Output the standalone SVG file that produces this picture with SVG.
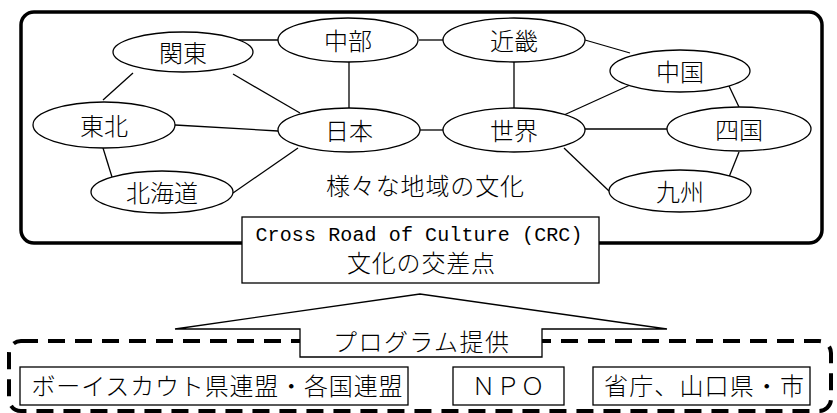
<svg xmlns="http://www.w3.org/2000/svg" width="837" height="413" viewBox="0 0 837 413">
<style>
.n ellipse{fill:#fff;stroke:#000;stroke-width:1.3}
.n text,.t{font-family:"Liberation Serif","Noto Sans CJK JP",serif;font-size:24px;font-weight:300;text-anchor:middle;fill:#000}
.e line{stroke:#000;stroke-width:1.3}
.box{fill:#fff;stroke:#000;stroke-width:1.3}
.mono{font-family:"Liberation Mono","Noto Sans CJK JP",monospace;font-size:20px;text-anchor:middle;fill:#000}
</style>
<rect width="837" height="413" fill="#fff"/>
<rect id="frame" x="21" y="12" width="801" height="231" rx="13" fill="none" stroke="#000" stroke-width="3.5"/>
<g class="e" id="edges">
<line x1="230" y1="40" x2="278" y2="40"/>
<line x1="349" y1="62" x2="349" y2="108"/>
<line x1="419" y1="40" x2="443" y2="40"/>
<line x1="420" y1="130" x2="443" y2="130"/>
<line x1="514" y1="62" x2="514" y2="108"/>
<line x1="585" y1="40" x2="630" y2="53"/>
<line x1="729" y1="86" x2="739" y2="107"/>
<line x1="564" y1="115" x2="630" y2="85"/>
<line x1="585" y1="129" x2="667" y2="129"/>
<line x1="564" y1="148" x2="609" y2="191"/>
<line x1="739" y1="152" x2="729" y2="177"/>
<line x1="133" y1="73" x2="103" y2="100"/>
<line x1="233" y1="74" x2="300" y2="113"/>
<line x1="175" y1="125" x2="278" y2="131"/>
<line x1="103" y1="148" x2="112" y2="177"/>
<line x1="233" y1="193" x2="298" y2="148"/>
</g>
<g class="n" id="kanto"><ellipse cx="183" cy="52" rx="70" ry="20"/><text x="183" y="62">関東</text></g>
<g class="n" id="chubu"><ellipse cx="348" cy="40" rx="70" ry="22"/><text x="348" y="50">中部</text></g>
<g class="n" id="kinki"><ellipse cx="514" cy="40" rx="71" ry="22"/><text x="514" y="50">近畿</text></g>
<g class="n" id="chugoku"><ellipse cx="680" cy="71" rx="70" ry="21"/><text x="680" y="81">中国</text></g>
<g class="n" id="tohoku"><ellipse cx="104" cy="125" rx="71" ry="23"/><text x="104" y="135">東北</text></g>
<g class="n" id="nihon"><ellipse cx="349" cy="130" rx="71" ry="22"/><text x="349" y="140">日本</text></g>
<g class="n" id="sekai"><ellipse cx="514" cy="130" rx="71" ry="22"/><text x="514" y="140">世界</text></g>
<g class="n" id="shikoku"><ellipse cx="739" cy="129" rx="72" ry="22"/><text x="739" y="139">四国</text></g>
<g class="n" id="hokkaido"><ellipse cx="162" cy="192" rx="71" ry="21"/><text x="162" y="202">北海道</text></g>
<g class="n" id="kyushu"><ellipse cx="680" cy="191" rx="71" ry="21"/><text x="680" y="201">九州</text></g>
<text id="culture" class="t" x="425" y="195" textLength="198" lengthAdjust="spacing">様々な地域の文化</text>
<g id="crc">
<rect class="box" x="242" y="217" width="357" height="66"/>
<text class="mono" x="419" y="241" textLength="327" lengthAdjust="spacing">Cross Road of Culture (CRC)</text>
<text class="t" x="421" y="272" textLength="148" lengthAdjust="spacing">文化の交差点</text>
</g>
<rect id="providers" x="9" y="341" width="822" height="70" rx="12" fill="none" stroke="#000" stroke-width="4" stroke-dasharray="17 10"/>
<g id="program">
<polygon class="box" points="300,357 300,329 175,329 420,294 667,329 542,329 542,357"/>
<text class="t" x="421" y="351" textLength="176" lengthAdjust="spacing">プログラム提供</text>
</g>
<g id="scout"><rect class="box" x="20" y="367" width="388" height="38"/><text class="t" x="217" y="395" textLength="371" lengthAdjust="spacing">ボーイスカウト県連盟・各国連盟</text></g>
<g id="npo"><rect class="box" x="453" y="367" width="111" height="38"/><text class="t" x="508" y="395" textLength="73" lengthAdjust="spacing">ＮＰＯ</text></g>
<g id="gov"><rect class="box" x="593" y="367" width="217" height="38"/><text class="t" x="704" y="395" textLength="200" lengthAdjust="spacing">省庁、山口県・市</text></g>
</svg>
